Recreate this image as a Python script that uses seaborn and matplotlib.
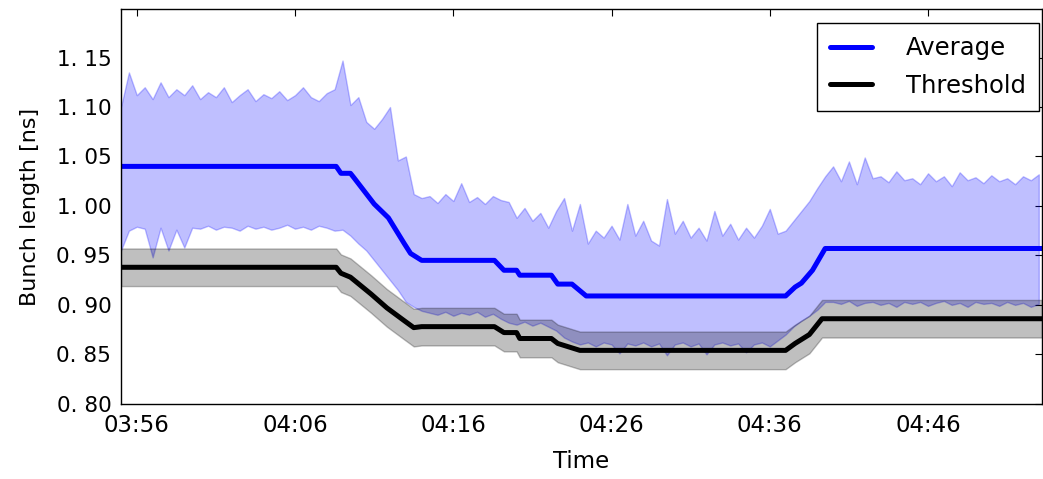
import numpy as np
import pandas as pd
import matplotlib
matplotlib.use("Agg")
import matplotlib.pyplot as plt
import matplotlib.dates as mdates
import seaborn as sns

# time base: minutes after 03:55
t0 = pd.Timestamp("2016-05-20 03:55:00")

# band of measured bunch lengths, sampled every 30 s
band_minutes = np.arange(0, 58.5, 0.5)
band_hi = [
    1.100, 1.135, 1.112, 1.120, 1.108, 1.125, 1.110, 1.118, 1.112, 1.122,
    1.108, 1.115, 1.110, 1.120, 1.105, 1.112, 1.118, 1.106, 1.113, 1.109,
    1.116, 1.107, 1.112, 1.120, 1.110, 1.106, 1.114, 1.118, 1.147, 1.102,
    1.110, 1.085, 1.078, 1.088, 1.100, 1.046, 1.050, 1.012, 1.008, 1.010,
    1.003, 1.012, 1.005, 1.023, 1.004, 1.009, 1.002, 1.010, 1.006, 1.004,
    0.988, 0.998, 0.985, 0.993, 0.978, 0.995, 1.008, 0.975, 1.002, 0.962,
    0.975, 0.968, 0.980, 0.966, 1.002, 0.970, 0.985, 0.965, 0.960, 1.007,
    0.972, 0.985, 0.968, 0.978, 0.965, 0.995, 0.970, 0.982, 0.966, 0.978,
    0.968, 0.980, 0.997, 0.972, 0.975, 0.985, 0.995, 1.005, 1.018, 1.030,
    1.040, 1.025, 1.045, 1.022, 1.049, 1.028, 1.030, 1.024, 1.035, 1.026,
    1.028, 1.022, 1.033, 1.025, 1.030, 1.020, 1.034, 1.026, 1.029, 1.023,
    1.031, 1.025, 1.028, 1.022, 1.030, 1.026, 1.032,
]
band_lo = [
    0.955, 0.975, 0.979, 0.977, 0.948, 0.978, 0.955, 0.976, 0.958, 0.978,
    0.977, 0.980, 0.976, 0.979, 0.978, 0.975, 0.980, 0.977, 0.979, 0.976,
    0.978, 0.981, 0.977, 0.979, 0.976, 0.980, 0.978, 0.975, 0.976, 0.970,
    0.962, 0.955, 0.945, 0.935, 0.925, 0.915, 0.903, 0.898, 0.894, 0.892,
    0.890, 0.893, 0.889, 0.892, 0.890, 0.893, 0.888, 0.891, 0.886, 0.882,
    0.880, 0.883, 0.879, 0.882, 0.878, 0.874, 0.867, 0.863, 0.860, 0.862,
    0.858, 0.862, 0.860, 0.851, 0.861, 0.859, 0.862, 0.858, 0.861, 0.849,
    0.860, 0.862, 0.858, 0.861, 0.850, 0.860, 0.862, 0.859, 0.861, 0.852,
    0.860, 0.862, 0.858, 0.864, 0.870, 0.878, 0.884, 0.889, 0.895, 0.903,
    0.903, 0.901, 0.904, 0.899, 0.902, 0.903, 0.900, 0.902, 0.898, 0.903,
    0.901, 0.903, 0.899, 0.902, 0.904, 0.900, 0.902, 0.898, 0.903, 0.901,
    0.902, 0.899, 0.903, 0.900, 0.902, 0.898, 0.901,
]

# average bunch length (breakpoints)
avg_minutes = [0.0, 13.6, 13.9, 14.5, 14.7, 16.0, 16.9, 17.9, 18.3, 19.0, 23.6,
               24.2, 25.0, 25.2, 27.2, 27.6, 28.5, 29.4, 42.0, 42.6, 43.0, 43.7,
               44.5, 58.2]
avg_vals = [1.040, 1.040, 1.033, 1.033, 1.029, 1.002, 0.988, 0.962, 0.952, 0.945,
            0.945, 0.935, 0.935, 0.930, 0.930, 0.921, 0.921, 0.909, 0.909, 0.918,
            0.922, 0.935, 0.957, 0.957]

# threshold (breakpoints) and its tolerance
thr_minutes = [0.0, 13.6, 13.9, 14.5, 15.8, 16.8, 17.9, 18.5, 19.0, 23.6, 24.2,
               25.0, 25.2, 27.2, 27.6, 29.0, 42.0, 42.6, 43.5, 44.3, 58.2]
thr_vals = [0.938, 0.938, 0.932, 0.928, 0.911, 0.897, 0.884, 0.877, 0.878, 0.878,
            0.872, 0.872, 0.866, 0.866, 0.861, 0.854, 0.854, 0.861, 0.870, 0.886,
            0.886]
thr_tol = 0.019

yticks = [0.80, 0.85, 0.90, 0.95, 1.00, 1.05, 1.10, 1.15]

band_t = t0 + pd.to_timedelta(band_minutes, unit="min")
avg_t = t0 + pd.to_timedelta(avg_minutes, unit="min")
thr_t = t0 + pd.to_timedelta(thr_minutes, unit="min")
thr_arr = np.array(thr_vals)

sns.set_style("white")
plt.rcParams.update({
    "font.family": ["DejaVu Sans"],
    "font.size": 15,
    "text.color": "black",
    "axes.labelcolor": "black",
    "xtick.color": "black",
    "ytick.color": "black",
    "xtick.direction": "in",
    "ytick.direction": "in",
    "xtick.top": True,
    "ytick.right": True,
    "xtick.major.size": 5,
    "ytick.major.size": 5,
    "xtick.major.pad": 7,
    "ytick.major.pad": 7,
    "axes.edgecolor": "black",
    "axes.linewidth": 1.0,
})

fig = plt.figure(figsize=(10.43, 4.79), dpi=100)
ax = fig.add_axes([0.116, 0.157, 0.883, 0.824])

ax.fill_between(band_t, band_lo, band_hi, facecolor="blue", edgecolor="blue",
                alpha=0.25, linewidth=1.0)
ax.fill_between(thr_t, thr_arr - thr_tol, thr_arr + thr_tol, facecolor="black",
                edgecolor="black", alpha=0.25, linewidth=1.0)

sns.lineplot(x=avg_t, y=avg_vals, ax=ax, color="blue", linewidth=3.6,
             label="Average", estimator=None)
sns.lineplot(x=thr_t, y=thr_vals, ax=ax, color="black", linewidth=3.6,
             label="Threshold", estimator=None)

ax.set_xlim(t0, t0 + pd.Timedelta(minutes=58.2))
ax.set_ylim(0.80, 1.199)
ax.set_yticks(yticks)
ax.set_yticklabels([f"{v:.2f}".replace(".", ". ") for v in yticks])
ax.xaxis.set_major_locator(mdates.MinuteLocator(byminute=[6, 16, 26, 36, 46, 56]))
ax.xaxis.set_major_formatter(mdates.DateFormatter("%H:%M"))
ax.tick_params(axis="x", labelsize=16.5)
ax.tick_params(axis="y", labelsize=15.5)

ax.set_xlabel("Time", fontsize=16.5, labelpad=10)
ax.set_ylabel("Bunch length [ns]", fontsize=16, labelpad=12)

leg = ax.legend(loc="upper right", bbox_to_anchor=(1039 / 1043, 1 - 23 / 479),
                bbox_transform=fig.transFigure, borderaxespad=0, fancybox=False,
                frameon=True, edgecolor="black", framealpha=1, fontsize=17.5,
                handlelength=1.7, handletextpad=1.4, borderpad=0.55,
                labelspacing=0.55)
leg.get_frame().set_linewidth(1.0)

fig.savefig("out.png", dpi=100)
plt.close(fig)
